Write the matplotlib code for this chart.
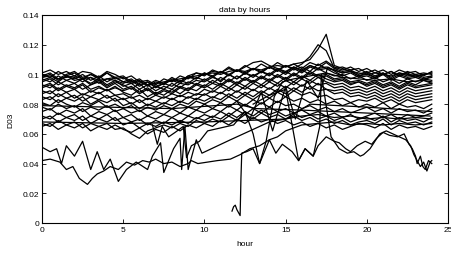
import numpy as np
import matplotlib
matplotlib.use("Agg")
import matplotlib.pyplot as plt

plt.rcParams['font.family'] = ['Liberation Sans', 'DejaVu Sans']

# half-hour grid for the regular series (0 .. 24 h)
hours = np.arange(0, 24.01, 0.5)

# D03 values in thousandths on the half-hour grid
t1 = [101,103,100,102,99,102,101,98,102,100, 97,99,95,96,93,97,95,99,97,101,
      99,103,101,105,102,106,103,107,104,108, 105,107,104,108,106,109,105,103,105,102,
      104,101,103,100,103,101,102,99,102]
t2 = [99,101,97,100,102,98,100,97,101,98, 99,95,97,93,96,94,98,95,99,97,
      101,98,102,99,103,100,104,101,105,102, 106,103,105,102,107,104,103,101,102,99,
      101,98,100,102,99,101,98,100,101]
t3 = [97,95,99,96,98,95,98,94,97,96, 94,96,92,95,91,94,92,96,94,98,
      96,99,95,100,97,101,98,102,99,103, 100,104,101,105,103,104,101,99,101,98,
      99,97,100,96,99,97,98,96,99]
t4 = [95,97,93,96,94,97,93,96,92,95, 93,90,94,89,92,90,94,91,95,93,
      97,94,98,95,99,96,100,97,101,98, 102,99,103,100,104,101,99,100,97,99,
      96,98,95,97,94,97,95,97,96]
t5 = [93,91,95,92,94,90,93,95,91,94, 90,92,88,91,87,90,88,92,90,94,
      92,96,93,97,94,98,95,99,96,100, 97,101,98,102,99,100,97,98,95,96,
      94,96,93,95,92,95,93,96,94]
t6 = [91,93,89,92,90,93,88,91,89,92, 88,86,90,85,88,86,90,87,91,89,
      93,90,94,91,95,92,96,93,97,94, 98,95,99,96,100,97,95,96,93,95,
      92,94,91,93,90,93,91,92,93]
t7 = [89,87,91,88,90,86,89,87,90,86, 87,84,86,83,86,84,87,85,88,86,
      90,88,92,89,93,90,94,91,95,92, 96,93,97,94,98,95,93,94,91,92,
      90,92,89,91,88,91,89,90,91]
t8 = [87,89,85,88,84,87,85,88,84,86, 83,85,81,84,82,85,83,86,84,87,
      86,89,87,91,88,92,89,93,90,94, 91,95,92,96,93,94,91,92,89,90,
      88,90,87,89,86,89,87,88,89]
t9 = [85,83,87,84,86,82,85,83,86,82, 84,80,83,79,82,80,84,81,85,83,
      87,84,88,85,89,86,90,87,91,88, 92,89,93,90,94,90,89,90,87,88,
      86,88,85,87,84,87,85,86,87]
t10 = [83,85,81,84,82,85,80,83,81,84, 79,81,77,80,78,81,79,82,80,84,
       82,85,83,87,84,88,85,89,86,90, 87,91,88,92,89,90,87,88,85,86,
       84,86,83,85,82,85,83,84,85]
t11 = [81,79,83,80,78,81,79,82,78,80, 77,79,75,78,76,79,77,80,78,82,
       80,83,81,85,82,86,83,87,84,88, 85,89,86,88,85,86,83,84,81,83,
       82,84,81,83,80,83,81,82,83]
t12 = [100,98,102,99,101,97,100,98,101,97, 98,94,96,92,95,93,97,95,99,101,
       100,102,101,104,102,105,108,109,106,104, 102,105,103,106,104,108,104,105,103,104,
       101,103,100,102,99,102,100,101,100]
t13 = [98,100,96,99,97,100,96,99,95,98, 95,97,93,95,92,94,96,94,98,97,
       101,99,102,100,103,101,104,102,105,103, 106,104,107,112,120,116,104,102,103,100,
       102,99,101,98,101,99,100,98,99]
t14 = [96,98,95,99,96,97,94,97,93,96, 92,94,90,93,89,92,90,94,93,96,
       95,98,96,100,97,101,99,102,100,104, 101,105,102,106,104,105,103,101,102,99,
       100,98,101,97,100,98,99,97,98]
t15 = [92,94,90,93,91,94,90,92,89,91, 89,91,87,90,86,89,87,91,89,93,
       91,94,92,96,93,97,94,98,95,99, 96,100,97,101,98,99,96,97,94,95,
       93,95,92,94,91,94,92,93,94]
p1 = [98,99,97,98,99,97,98,96,97,98, 95,94,95,93,94,95,96,97,98,99,
      100,101,100,102,103,102,104,103,105,106, 105,107,108,110,117,127,106,104,102,101,
      100,101,100,99,101,100,99,100,101]
m1 = [78,76,80,77,79,75,78,76,79,75, 77,74,76,72,75,73,77,74,78,76,
      80,77,81,78,82,79,83,80,84,81, 85,82,84,81,83,80,82,79,81,78,
      80,78,81,77,80,78,79,77,80]
m2 = [75,77,73,76,74,77,72,75,73,76, 71,73,69,72,70,73,71,74,72,76,
      74,77,75,79,76,80,77,81,78,82, 79,80,77,79,76,78,75,77,74,76,
      78,75,77,74,77,75,76,74,77]
m3 = [72,70,74,71,73,69,72,70,73,69, 71,68,70,66,69,67,71,68,72,70,
      73,71,75,72,76,73,77,74,78,75, 77,74,76,73,75,72,74,71,73,70,
      72,74,71,73,70,73,71,72,74]
m4 = [70,72,68,71,69,72,67,70,68,71, 66,68,64,67,65,68,66,69,67,71,
      69,72,70,74,71,75,72,76,73,75, 72,74,71,73,70,72,69,71,68,70,
      71,69,72,68,71,69,70,68,71]
m5 = [67,65,69,66,68,64,67,65,67,63, 64,60,57,62,64,66,64,67,65,69,
      67,70,68,72,69,73,70,74,71,73, 70,72,69,71,68,70,67,69,66,68,
      69,67,70,66,69,67,68,66,68]
m6 = [65,67,63,66,64,67,62,65,63,66, 63,61,64,60,63,61,65,62,66,64,
      67,65,69,66,70,67,71,68,70,67, 69,66,68,65,67,64,66,63,65,67,
      66,64,67,63,66,64,65,63,65]

# irregular series (hours, thousandths)
la_x = [0.0,0.5,1.1,1.5,1.9,2.3,2.8,3.1,3.4,3.8,4.2,4.7,5.2,5.7,6.2,6.6,7.0,7.5,8.0,8.5,
        9.0,9.2,9.6,10.2,10.8,11.6,12.2,12.8,13.4,14.0,14.5,15.0,15.5,16.0,17.0,18.0,
        19.0,20.0,21.0,22.0,23.0,24.0]
la_v = [42,43,41,36,38,30,26,30,33,35,38,36,41,39,42,41,43,40,41,38,
        40,42,40,41,42,43,46,50,52,56,58,62,64,66,67,68,
        66,67,66,67,66,67]
lb_x = [0.0,0.5,0.9,1.2,1.5,2.0,2.5,3.0,3.4,3.8,4.2,4.7,5.2,5.8,6.5,6.8,7.3,7.5,8.1,8.5,
        8.6,8.8,9.0,9.5,9.85,11.6,13.4,14.0,15.0,16.0,17.0,18.0,19.0,20.0,21.0,22.0,23.0,24.0]
lb_v = [51,48,50,40,52,45,55,36,48,36,43,28,36,41,36,45,54,34,50,57,
        36,65,36,56,47,56,65,68,70,72,73,71,72,70,71,70,71,70]
lc_x = [6.8,7.1,7.4,7.8,8.2,8.7,8.9,9.2,9.7,10.2,11.0,11.8,12.5,13.0,13.4,13.8,14.3,14.8,
        15.5,16.5,17.5,18.5,19.5,20.5,21.5,22.5,23.5,24.0]
lc_v = [66,53,65,58,61,65,44,52,55,62,64,66,75,60,40,55,85,95,
        97,99,101,98,97,96,97,95,96,95]
ld_x = [11.7,11.8,11.9,12.0,12.1,12.2,12.25,12.3,12.6,13.0,13.4,14.0,14.4,14.8,15.4,15.8,
        16.2,16.7,17.0,17.5,18.0,18.3,18.7,19.0,19.4,19.9,20.3,20.6,21.0,21.4,21.9,22.3,
        22.6,22.8,23.0,23.1,23.3,23.45,23.6,23.8,24.0]
ld_v = [8,11,12,9,7,5,30,47,48,50,40,56,47,53,48,42,
        50,45,52,58,55,54,50,48,52,55,53,57,61,59,58,60,
        53,50,45,40,45,38,36,42,40]
le_x = [13.0,14.0,15.0,15.5,15.8,16.2,16.7,17.1,17.2,17.8,18.3,18.8,19.2,19.6,19.8,20.2,
        20.8,21.2,21.6,22.0,22.4,22.7,22.9,23.1,23.3,23.5,23.7,23.9,24.0]
le_v = [80,86,90,60,42,50,45,65,100,58,50,47,48,45,46,50,
        60,62,60,58,56,52,46,42,38,41,35,41,42]
lf_x = [0.0,4.0,8.0,12.0,13.2,16.0,20.0,23.9]
lf_v = [79,78,77,80,77,76,74,72]
lg_x = [0.0,5.0,10.0,15.0,16.5,20.0,24.0]
lg_v = [68,67,68,70,80,78,75]
lh_x = [12.0,12.8,13.5,14.2,15.0,15.6,16.3,17.0,17.6,18.5]
lh_v = [82,70,88,62,92,70,96,84,105,99]

band = [t1, t2, t3, t4, t5, t6, t7, t8, t9, t10, t11, t12, t13, t14, t15, p1,
        m1, m2, m3, m4, m5, m6]
irregular = [(la_x, la_v), (lb_x, lb_v), (lc_x, lc_v), (ld_x, ld_v),
             (le_x, le_v), (lf_x, lf_v), (lg_x, lg_v), (lh_x, lh_v)]

fig = plt.figure(figsize=(4.52, 2.55), dpi=100)
ax = fig.add_axes([42/452, 31/255, 406/452, 208/255])

for s in band:
    ax.plot(hours, np.array(s) / 1000.0, color='black', lw=0.9)
for xs, vs in irregular:
    ax.plot(xs, np.array(vs) / 1000.0, color='black', lw=0.9)

ax.set_xlim(0, 25)
ax.set_ylim(0, 0.14)
ax.set_xticks([0, 5, 10, 15, 20, 25])
ax.set_yticks([0, 0.02, 0.04, 0.06, 0.08, 0.1, 0.12, 0.14])
ax.set_yticklabels(['0', '0.02', '0.04', '0.06', '0.08', '0.1', '0.12', '0.14'])
ax.tick_params(direction='in', length=3, width=0.6, labelsize=6, top=True, right=True,
               pad=2)
for sp in ax.spines.values():
    sp.set_linewidth(0.8)
ax.set_title('data by hours', fontsize=6, pad=3)
ax.set_xlabel('hour', fontsize=6, labelpad=5)
ax.set_ylabel('D03', fontsize=6, labelpad=6)

fig.savefig('out.png', dpi=100)
